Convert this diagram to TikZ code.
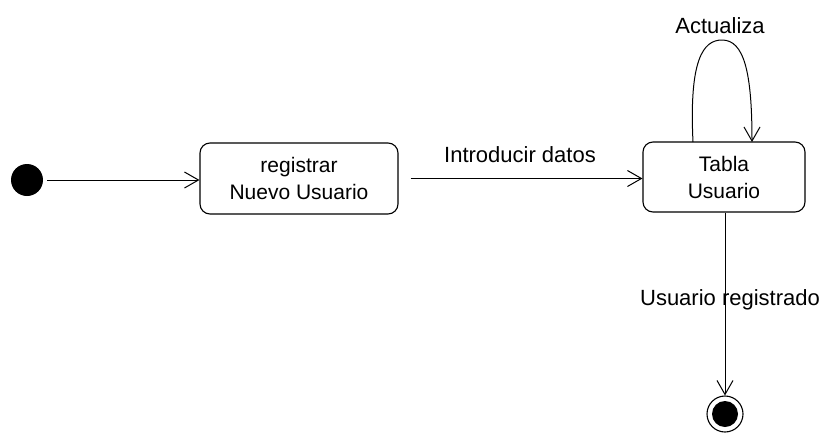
\documentclass[tikz,border=0pt]{standalone}
\usepackage{fontspec}
\setmainfont{Liberation Sans}
\usetikzlibrary{arrows.meta}
\begin{document}
\begin{tikzpicture}[x=1pt,y=-1pt,
  state/.style={draw,rounded corners=10pt,line width=1.1pt,align=center,font=\fontsize{21}{27}\selectfont,inner sep=0pt},
  trans/.style={draw,line width=1pt,-{Straight Barb[length=14pt,width=16pt,line width=1pt]}},
  lbl/.style={font=\fontsize{22}{24}\selectfont,inner sep=1pt}]
\useasboundingbox (0,0) rectangle (823,437);
\node[circle,fill=black,minimum size=32pt,inner sep=0pt] (ini) at (27,180) {};
\node[state,minimum width=198pt,minimum height=71pt] (reg) at (299,178.5) {registrar\\Nuevo Usuario};
\node[state,minimum width=162pt,minimum height=70pt] (tab) at (724,177) {Tabla\\Usuario};
\node[circle,draw,line width=1.1pt,minimum size=36pt,inner sep=0pt] (fin) at (725,414) {};
\node[circle,fill=black,minimum size=26pt,inner sep=0pt] at (fin) {};
\draw[trans] (ini.east) ++(4,0) coordinate (s1) -- (reg.west |- s1);
\draw[trans] (reg.east) ++(12,0) coordinate (s2) -- (tab.west |- s2);
\node[lbl] (l1) at (520,155) {Introducir datos};
\coordinate (lp1) at (693,142);
\coordinate (lp2) at (752,142);
\draw[trans] (lp1) .. controls (689,60) and (703,40) .. (722,40) .. controls (744,40) and (752,72) .. (lp2);
\node[lbl] (l2) at (720,26) {Actualiza};
\draw[trans] (tab.south -| fin) -- (fin.north);
\node[lbl] (l3) at (730,300) {Usuario registrado};
\end{tikzpicture}
\end{document}
